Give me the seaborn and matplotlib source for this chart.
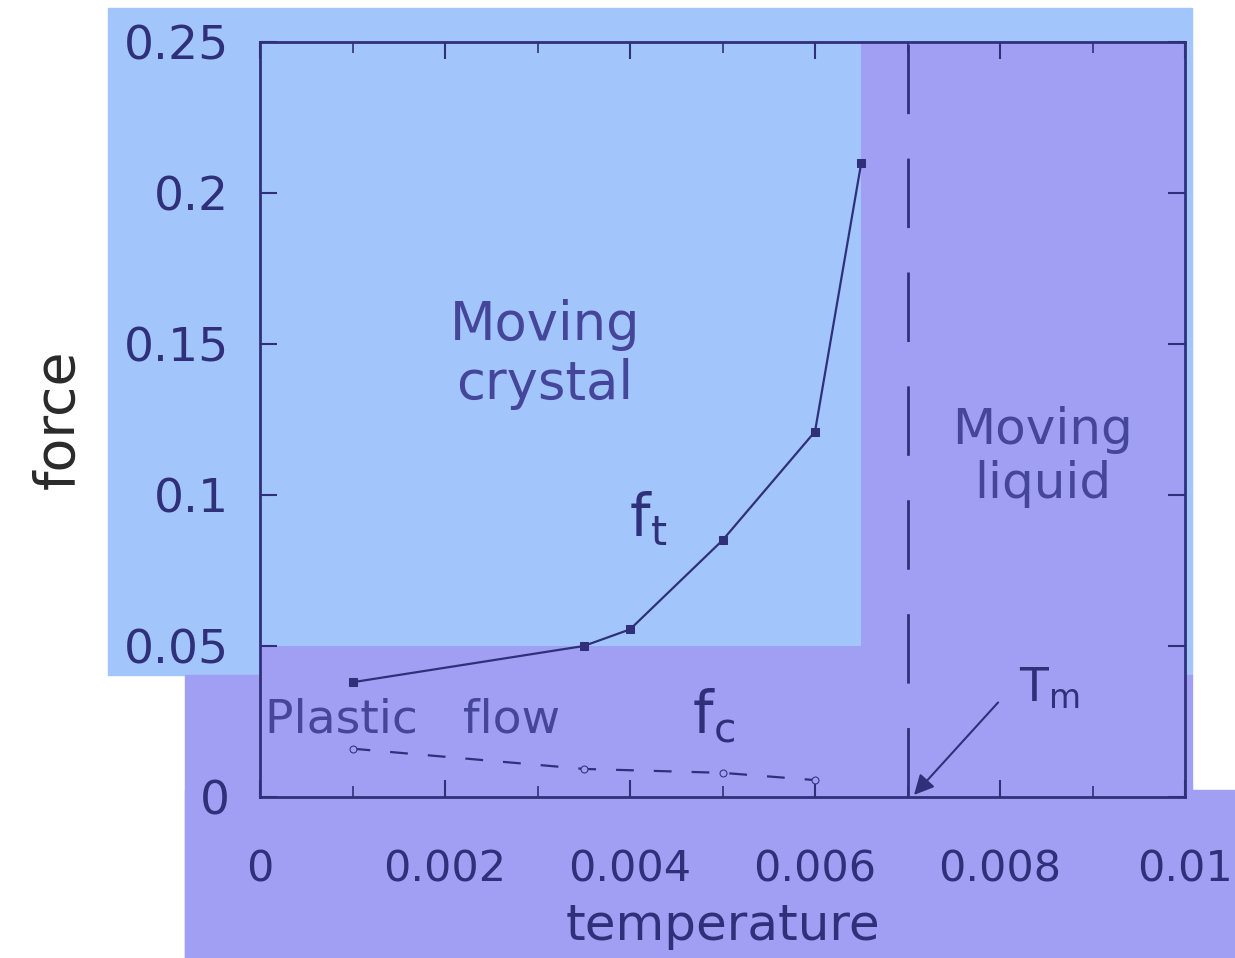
import numpy as np
import pandas as pd
import seaborn as sns
import matplotlib.pyplot as plt
from matplotlib.patches import Rectangle
from matplotlib.ticker import MultipleLocator

# f_t curve (solid, filled points)
ft_temp = [0.001, 0.0035, 0.004, 0.005, 0.006, 0.0065]
ft_force = [0.038, 0.050, 0.0555, 0.085, 0.121, 0.210]

# f_c curve (dashed, small open points)
fc_temp = [0.001, 0.0035, 0.005, 0.006]
fc_force = [0.016, 0.0093, 0.008, 0.0056]

melt_temp = 0.007
x_ticks = [0, 0.002, 0.004, 0.006, 0.008, 0.01]
x_labels = ['0', '0.002', '0.004', '0.006', '0.008', '0.01']
y_ticks = [0, 0.05, 0.1, 0.15, 0.2, 0.25]
y_labels = ['0', '0.05', '0.1', '0.15', '0.2', '0.25']

ft_df = pd.DataFrame({'temperature': ft_temp, 'force': ft_force})
fc_df = pd.DataFrame({'temperature': fc_temp, 'force': fc_force})

sns.set_style("ticks")
plt.rcParams['font.family'] = ['DejaVu Sans']
plt.rcParams['mathtext.fontset'] = 'dejavusans'

ink = '#30307a'
txt = '#45459a'
blue = '#a2c6fb'
lav = '#a19ff4'

fig = plt.figure(figsize=(12.35, 9.58), dpi=100)
fig.patch.set_facecolor('white')
W, H = 1235, 958
# scanned-page backdrop, kept behind the axes
for (x0, y0, x1, y1, c) in [(108, 8, 1192, 675, blue), (185, 675, 1192, 958, lav),
                            (185, 790, 1235, 958, lav)]:
    fig.patches.append(Rectangle((x0 / W, 1 - y1 / H), (x1 - x0) / W, (y1 - y0) / H,
                                 transform=fig.transFigure, color=c, zorder=-5))

ax = fig.add_axes([260 / W, 1 - 797 / H, (1185 - 260) / W, (797 - 42) / H])
ax.set_facecolor(blue)
ax.axhspan(0, 0.05, color=lav, lw=0, zorder=0)
ax.axvspan(0.0065, 0.01, color=lav, lw=0, zorder=0)

sns.lineplot(data=ft_df, x='temperature', y='force', ax=ax, color=ink, lw=1.6,
             marker='s', markersize=6, markeredgecolor=ink)
sns.lineplot(data=fc_df, x='temperature', y='force', ax=ax, color=ink, lw=1.6,
             linestyle=(0, (8, 9)), marker='o', markersize=5,
             markerfacecolor=lav, markeredgecolor=ink)

ax.axvline(melt_temp, color=ink, lw=2, dashes=(25, 16))
ax.annotate('', xy=(melt_temp + 0.00005, 0), xytext=(0.0080, 0.032),
            arrowprops=dict(arrowstyle='-|>', color=ink, lw=1.5, mutation_scale=30))

ax.text(0.00308, 0.1465, 'Moving\ncrystal', ha='center', va='center',
        fontsize=38, color=txt, linespacing=1.15)
ax.text(0.00846, 0.1125, 'Moving\nliquid', ha='center', va='center',
        fontsize=36, color=txt, linespacing=1.15)
ax.text(0.0042, 0.092, r'$\mathregular{f_t}$', ha='center', va='center',
        fontsize=42, color=ink)
ax.text(0.0049, 0.027, r'$\mathregular{f_c}$', ha='center', va='center',
        fontsize=42, color=ink)
ax.text(0.0082, 0.036, r'$\mathregular{T_m}$', ha='left', va='center',
        fontsize=34, color=ink)
ax.text(0.00005, 0.0255, 'Plastic   flow', ha='left', va='center',
        fontsize=34, color=txt)

ax.set_xlim(0, 0.01)
ax.set_ylim(0, 0.25)
ax.set_xticks(x_ticks)
ax.set_xticklabels(x_labels)
ax.set_yticks(y_ticks)
ax.set_yticklabels(y_labels)
ax.xaxis.set_minor_locator(MultipleLocator(0.001))
ax.tick_params(which='both', direction='in', top=True, right=True, color=ink)
ax.tick_params(which='major', length=12, width=1.5)
ax.tick_params(which='minor', length=8, width=1.2)
ax.tick_params(axis='x', which='major', pad=37, labelsize=31, labelcolor=ink)
ax.tick_params(axis='y', which='major', pad=22, labelsize=34, labelcolor=ink)
for s in ax.spines.values():
    s.set_color(ink)
    s.set_linewidth(2)

ax.set_xlabel('temperature', fontsize=36, color=ink, labelpad=8)
ax.set_ylabel('force', fontsize=40, color='#2a2a2a', labelpad=28)

fig.savefig('out.png', dpi=100)
